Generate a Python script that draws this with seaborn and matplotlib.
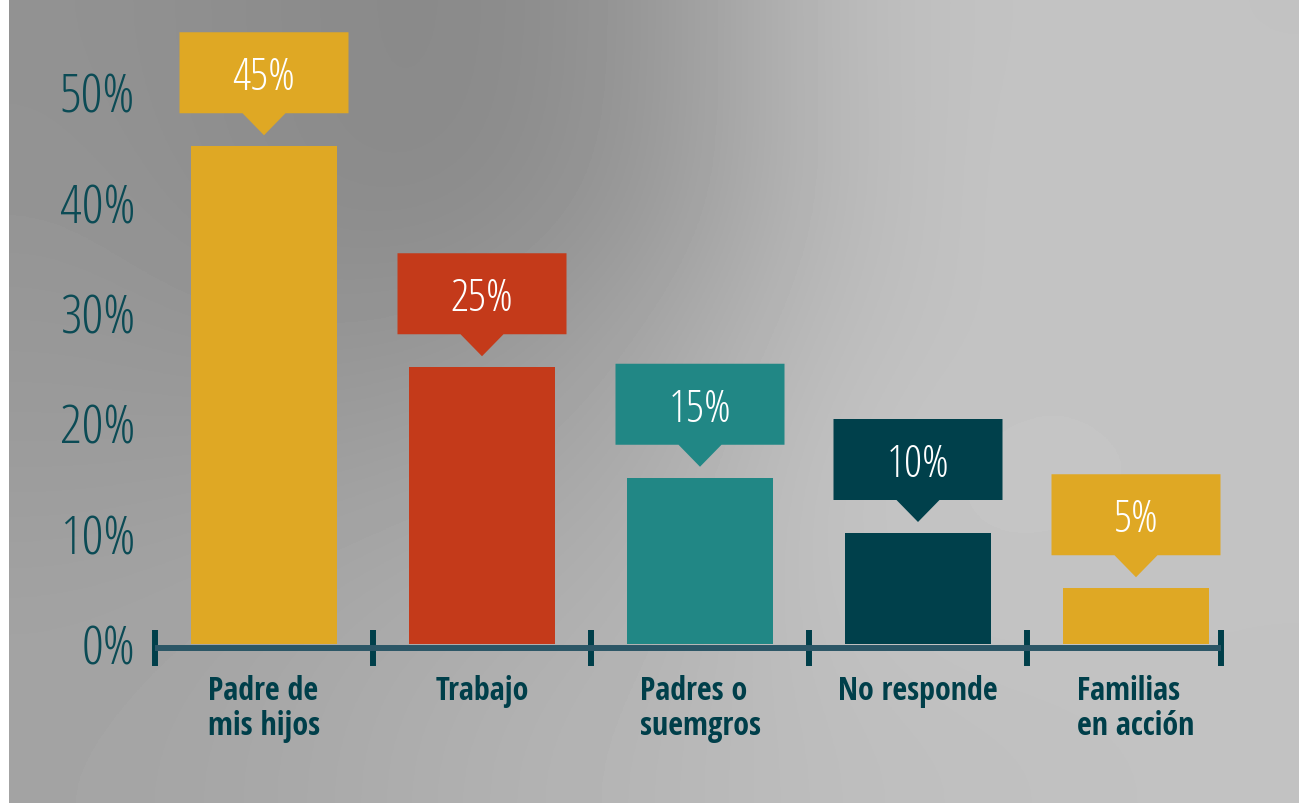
import matplotlib
matplotlib.use("Agg")
import numpy as np
import pandas as pd
import matplotlib.pyplot as plt
import matplotlib.transforms as mtransforms
from matplotlib.patches import Polygon
from matplotlib import font_manager as fm
import seaborn as sns

# ---------------- data ----------------
categories = ["Padre de\nmis hijos", "Trabajo", "Padres o\nsuemgros", "No responde", "Familias\nen acción"]
values = [45, 25, 15, 10, 5]
colors = ["#DFA824", "#C43A1A", "#218785", "#00404B", "#DFA824"]
y_ticks = [0, 10, 20, 30, 40, 50]

# ---------------- fonts ----------------
def font_file(suffix):
    for f in fm.fontManager.ttflist:
        if f.fname.endswith(suffix):
            return f.fname
    return None

light_path = font_file("OpenSans-CondLight.ttf")
bold_path = font_file("OpenSans-CondBold.ttf")

def fp_light(size):
    if light_path:
        return fm.FontProperties(fname=light_path, size=size)
    return fm.FontProperties(family="Open Sans", weight="light", size=size)

def fp_bold(size):
    if bold_path:
        return fm.FontProperties(fname=bold_path, size=size)
    return fm.FontProperties(family="Open Sans", weight="bold", size=size)

sns.set_theme(style="white")
plt.rcParams["font.family"] = ["Open Sans", "DejaVu Sans"]

TICK_COLOR = "#0B4B55"
LABEL_COLOR = "#003F4A"
AXIS_COLOR = "#2B5666"

W, H = 1299, 804
fig = plt.figure(figsize=(W / 100, H / 100), dpi=100, facecolor="white")

# ---------------- watercolour-like grey background ----------------
bg = fig.add_axes([9 / W, 0, 1 - 9 / W, 1], zorder=-5)
grid = np.array([
    [146, 140, 136, 150, 188, 196, 194],
    [148, 140, 138, 152, 186, 198, 196],
    [152, 148, 150, 165, 190, 196, 194],
    [156, 158, 162, 172, 196, 198, 196],
    [162, 166, 172, 178, 194, 196, 194],
    [164, 168, 176, 182, 190, 192, 194],
], dtype=float)
bg.imshow(grid, cmap="gray", vmin=0, vmax=255, interpolation="bicubic",
          aspect="auto", extent=[0, 1, 0, 1])
bg.set_axis_off()

# ---------------- main axes ----------------
px_per_unit_x = 218.0
x_left = -0.55
x_right = 4.45
y_top = 58
px_per_unit_y = 11.05
ax_left_px = 264 + x_left * px_per_unit_x
ax_bottom_px = H - 644.5
ax = fig.add_axes([ax_left_px / W, ax_bottom_px / H,
                   (x_right - x_left) * px_per_unit_x / W,
                   y_top * px_per_unit_y / H])
ax.patch.set_alpha(0)

df = pd.DataFrame({"cat": categories, "val": values})
sns.barplot(data=df, x="cat", y="val", hue="cat", palette=colors, legend=False,
            width=0.67, saturation=1, linewidth=0, ax=ax, zorder=2)

ax.set_xlim(x_left, x_right)
ax.set_ylim(0, y_top)
ax.set_xlabel("")
ax.set_ylabel("")
ax.grid(False)

# spines first (set_position resets the ticks)
for s in ["left", "top", "right"]:
    ax.spines[s].set_visible(False)
ax.spines["bottom"].set_color(AXIS_COLOR)
ax.spines["bottom"].set_linewidth(4.3)
ax.spines["bottom"].set_position(("outward", 3.2))
ax.spines["bottom"].set_bounds(-0.5, 4.39)
ax.spines["bottom"].set_capstyle("butt")

# y ticks
ax.set_yticks(y_ticks, [f"{t}%" for t in y_ticks])
ax.tick_params(axis="y", left=False, length=0, pad=6.5, colors=TICK_COLOR)
for lbl in ax.get_yticklabels():
    lbl.set_fontproperties(fp_light(39))
    lbl.set_color(TICK_COLOR)

# x axis: boundary ticks as majors, category labels as minors
bounds = [-0.5, 0.5, 1.5, 2.5, 3.5, 4.39]
ax.set_xticks(bounds, [""] * len(bounds))
ax.set_xticks(range(len(categories)), categories, minor=True)
ax.tick_params(axis="x", which="major", bottom=True, direction="inout", length=25.5,
               width=4.3, color=LABEL_COLOR)
ax.tick_params(axis="x", which="minor", bottom=False, length=0, pad=18.5)
for lbl in ax.get_xticklabels(minor=True):
    lbl.set_fontproperties(fp_bold(23))
    lbl.set_color(LABEL_COLOR)
    lbl.set_multialignment("left")
    lbl.set_linespacing(1.08)

# ---------------- callouts ----------------
half_w, half_p = 84.5, 21.5
tip, base, top = 11, 33, 114
verts = [(-half_w, base), (-half_p, base), (0, tip), (half_p, base),
         (half_w, base), (half_w, top), (-half_w, top)]
bars = [p for p in ax.patches if p.get_height() > 0]
for bar, val, col in zip(bars, values, colors):
    xc = bar.get_x() + bar.get_width() / 2
    yt = bar.get_height()
    tr = mtransforms.Affine2D() + mtransforms.ScaledTranslation(xc, yt, ax.transData)
    ax.add_patch(Polygon(verts, closed=True, facecolor=col, edgecolor="none",
                         transform=tr, clip_on=False, zorder=3))
    ax.text(0, base + 24, f"{val}%", transform=tr, ha="center", va="baseline",
            color="white", fontproperties=fp_light(32.5), zorder=4, clip_on=False)

fig.savefig("out.png", dpi=100, facecolor="white")
